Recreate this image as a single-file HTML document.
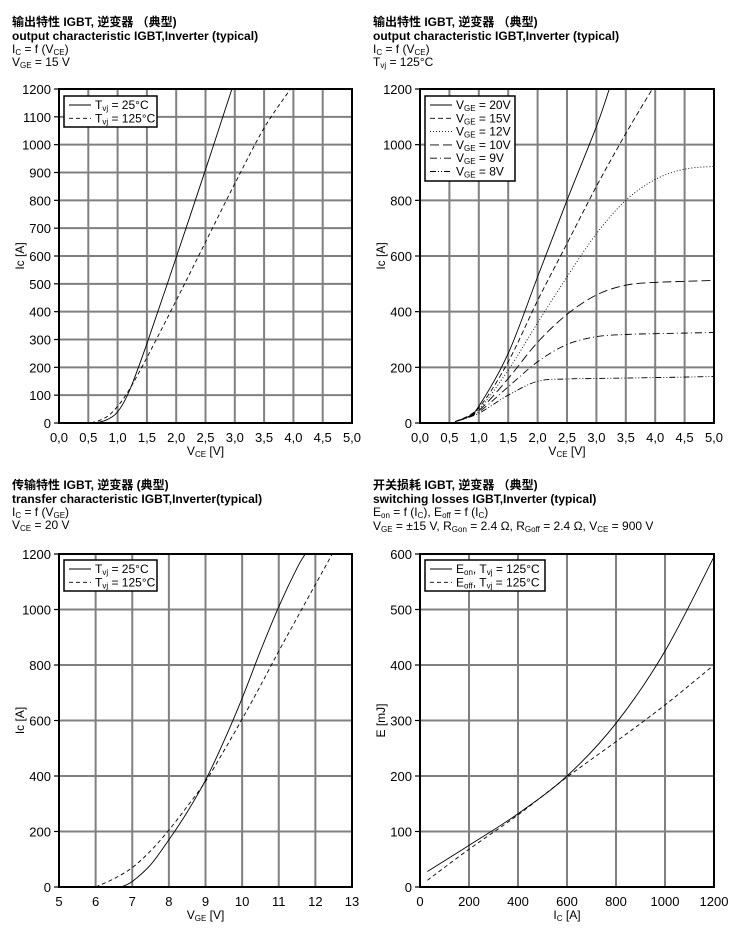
<!DOCTYPE html>
<html><head><meta charset="utf-8"><style>
html,body{margin:0;padding:0;background:#fff;}
svg{display:block;font-family:"Liberation Sans","Noto Sans CJK SC",sans-serif;}
</style></head><body>
<svg id="s" width="737" height="928" xmlns="http://www.w3.org/2000/svg">
<g font-size="12" fill="#000">
<text x="12" y="26" font-weight="bold">输出特性 IGBT, 逆变器 （典型)</text>
<text x="12" y="40" font-weight="bold">output characteristic IGBT,Inverter (typical)</text>
<text x="12" y="53">I<tspan font-size="8" dy="2">C</tspan><tspan dy="-2"> = f (V</tspan><tspan font-size="8" dy="2">CE</tspan><tspan dy="-2">)</tspan></text>
<text x="12" y="66">V<tspan font-size="8" dy="2">GE</tspan><tspan dy="-2"> = 15 V</tspan></text>

<text x="373" y="26" font-weight="bold">输出特性 IGBT, 逆变器 （典型)</text>
<text x="373" y="40" font-weight="bold">output characteristic IGBT,Inverter (typical)</text>
<text x="373" y="53">I<tspan font-size="8" dy="2">C</tspan><tspan dy="-2"> = f (V</tspan><tspan font-size="8" dy="2">CE</tspan><tspan dy="-2">)</tspan></text>
<text x="373" y="66">T<tspan font-size="8" dy="2">vj</tspan><tspan dy="-2"> = 125°C</tspan></text>

<text x="12" y="489" font-weight="bold">传输特性 IGBT, 逆变器 (典型)</text>
<text x="12" y="503" font-weight="bold">transfer characteristic  IGBT,Inverter(typical)</text>
<text x="12" y="516">I<tspan font-size="8" dy="2">C</tspan><tspan dy="-2"> = f (V</tspan><tspan font-size="8" dy="2">GE</tspan><tspan dy="-2">)</tspan></text>
<text x="12" y="529">V<tspan font-size="8" dy="2">CE</tspan><tspan dy="-2"> = 20 V</tspan></text>

<text x="373" y="489" font-weight="bold">开关损耗 IGBT, 逆变器 （典型)</text>
<text x="373" y="503" font-weight="bold">switching losses  IGBT,Inverter (typical)</text>
<text x="373" y="516">E<tspan font-size="8" dy="2">on</tspan><tspan dy="-2"> = f (I</tspan><tspan font-size="8" dy="2">C</tspan><tspan dy="-2">), E</tspan><tspan font-size="8" dy="2">off</tspan><tspan dy="-2"> = f (I</tspan><tspan font-size="8" dy="2">C</tspan><tspan dy="-2">)</tspan></text>
<text x="373" y="530">V<tspan font-size="8" dy="2">GE</tspan><tspan dy="-2"> = ±15 V, R</tspan><tspan font-size="8" dy="2">Gon</tspan><tspan dy="-2"> = 2.4 Ω, R</tspan><tspan font-size="8" dy="2">Goff</tspan><tspan dy="-2"> = 2.4 Ω, V</tspan><tspan font-size="8" dy="2">CE</tspan><tspan dy="-2"> = 900 V</tspan></text>
</g>
<g id="plots"></g>
</svg>
<script>
var NS="http://www.w3.org/2000/svg",G=document.getElementById("plots");
function el(t,a,txt){var e=document.createElementNS(NS,t);for(var k in a)e.setAttribute(k,a[k]);if(txt!=null)e.innerHTML=txt;G.appendChild(e);return e;}
function cr(pts){
 var d="M"+pts[0][0].toFixed(1)+","+pts[0][1].toFixed(1);
 for(var i=0;i<pts.length-1;i++){var p0=pts[i-1]||pts[i],p1=pts[i],p2=pts[i+1],p3=pts[i+2]||p2;
 var c1=[p1[0]+(p2[0]-p0[0])/6,p1[1]+(p2[1]-p0[1])/6],c2=[p2[0]-(p3[0]-p1[0])/6,p2[1]-(p3[1]-p1[1])/6];
 d+="C"+c1.join(",")+" "+c2.join(",")+" "+p2[0].toFixed(1)+","+p2[1].toFixed(1);}
 return d;}
function plot(o){
 var X0=o.x0,X1=o.x1,Y0=o.y0,Y1=o.y1;
 function sx(v){return X0+(v-o.xmin)/(o.xmax-o.xmin)*(X1-X0);}
 function sy(v){return Y1-(v-o.ymin)/(o.ymax-o.ymin)*(Y1-Y0);}
 o.xt.forEach(function(t){var x=sx(t.v);el("line",{x1:x,x2:x,y1:Y0,y2:Y1,stroke:"#808080","stroke-width":2});
  el("text",{x:x,y:Y1+19,"text-anchor":"middle","font-size":13},t.l);});
 o.yt.forEach(function(v){var y=sy(v);el("line",{x1:X0,x2:X1,y1:y,y2:y,stroke:"#808080","stroke-width":2});
  el("line",{x1:X0-5,x2:X0,y1:y,y2:y,stroke:"#000","stroke-width":1.2});
  el("text",{x:X0-8,y:y+5,"text-anchor":"end","font-size":13},String(v));});
 el("defs",{},'<clipPath id="c'+o.id+'"><rect x="'+X0+'" y="'+Y0+'" width="'+(X1-X0)+'" height="'+(Y1-Y0)+'"/></clipPath>');
 o.series.forEach(function(s){var p=s.p.map(function(q){return [sx(q[0]),sy(q[1])];});
  var a={d:cr(p),fill:"none",stroke:"#000","stroke-width":0.9,"clip-path":"url(#c"+o.id+")"};if(s.da)a["stroke-dasharray"]=s.da;el("path",a);});
 el("rect",{x:X0,y:Y0,width:X1-X0,height:Y1-Y0,fill:"none",stroke:"#000","stroke-width":2});
 el("text",{x:(X0+X1)/2,y:Y1+32,"text-anchor":"middle","font-size":12},o.xl);
 el("text",{x:0,y:0,"text-anchor":"middle","font-size":12,transform:"translate("+(X0-35)+","+((Y0+Y1)/2)+") rotate(-90)"},o.yl);
 var L=o.leg;el("rect",{x:L.x,y:L.y,width:L.w,height:L.h,fill:"#fff",stroke:"#000","stroke-width":1.5});
 L.items.forEach(function(it,i){var y=L.y+9+i*13.3;var a={x1:L.x+5,x2:L.x+27,y1:y,y2:y,stroke:"#000","stroke-width":0.9};if(it.da)a["stroke-dasharray"]=it.da;el("line",a);
  el("text",{x:L.x+31,y:y+4,"font-size":12},it.t);});
}
var tvj=function(t){return 'T<tspan font-size="8" dy="2">vj</tspan><tspan dy="-2"> = '+t+'</tspan>';};
var vge=function(t){return 'V<tspan font-size="8" dy="2">GE</tspan><tspan dy="-2"> = '+t+'</tspan>';};
var xt5=[];for(var i=0;i<=10;i++)xt5.push({v:i/2,l:(i/2).toFixed(1).replace(".",",")});
plot({id:1,x0:59,x1:352,y0:89,y1:423,xmin:0,xmax:5,ymin:0,ymax:1200,xt:xt5,yt:[0,100,200,300,400,500,600,700,800,900,1000,1100,1200],
 xl:'V<tspan font-size="8" dy="2">CE</tspan><tspan dy="-2"> [V]</tspan>',yl:'Ic [A]',
 series:[{p:[[0.6,0],[0.8,10],[1.0,40],[1.2,115],[1.5,285],[2.0,595],[2.5,910],[2.95,1200],[3.0,1230]]},
  {da:"4,3",p:[[0.55,0],[0.8,20],[1.0,60],[1.2,120],[1.5,235],[2.0,440],[2.5,650],[3.0,860],[3.5,1060],[3.95,1200],[4.0,1220]]}],
 leg:{x:64,y:96,w:93,h:31,items:[{t:tvj("25°C")},{t:tvj("125°C"),da:"4,3"}]}});
plot({id:2,x0:420,x1:714,y0:89,y1:423,xmin:0,xmax:5,ymin:0,ymax:1200,xt:xt5,yt:[0,200,400,600,800,1000,1200],
 xl:'V<tspan font-size="8" dy="2">CE</tspan><tspan dy="-2"> [V]</tspan>',yl:'Ic [A]',
 series:[{p:[[0.6,5],[0.8,20],[1.0,60],[1.5,250],[2.0,525],[2.5,800],[3.0,1065],[3.22,1200],[3.3,1250]]},
  {da:"5,3",p:[[0.6,5],[1,55],[1.5,220],[2,440],[2.5,645],[3,850],[3.5,1040],[3.95,1200],[4.0,1220]]},
  {da:"1,2",p:[[0.6,5],[1,50],[1.5,190],[2,360],[2.5,525],[3,680],[3.5,800],[4,875],[4.5,912],[5,922]]},
  {da:"9,4",p:[[0.6,5],[1,45],[1.5,160],[2,290],[2.5,390],[3,460],[3.5,495],[4,505],[5,512]]},
  {da:"7,3,1,3",p:[[0.6,5],[1,40],[1.5,130],[2,220],[2.5,282],[3,310],[3.5,318],[4,321],[5,325]]},
  {da:"6,2,1,2,1,2",p:[[0.6,5],[1,35],[1.5,100],[2,150],[2.5,158],[3,160],[4,163],[5,167]]}],
 leg:{x:425,y:96,w:90,h:85,items:[{t:vge("20V")},{t:vge("15V"),da:"5,3"},{t:vge("12V"),da:"1,2"},{t:vge("10V"),da:"9,4"},{t:vge("9V"),da:"7,3,1,3"},{t:vge("8V"),da:"6,2,1,2,1,2"}]}});
var xt13=[];for(var i=5;i<=13;i++)xt13.push({v:i,l:String(i)});
plot({id:3,x0:59,x1:352,y0:554,y1:887,xmin:5,xmax:13,ymin:0,ymax:1200,xt:xt13,yt:[0,200,400,600,800,1000,1200],
 xl:'V<tspan font-size="8" dy="2">GE</tspan><tspan dy="-2"> [V]</tspan>',yl:'Ic [A]',
 series:[{p:[[6.7,0],[7,20],[7.5,80],[8,170],[8.5,270],[9,385],[9.5,525],[10,680],[10.5,850],[11,1010],[11.5,1150],[11.72,1200],[11.8,1230]]},
  {da:"4,3",p:[[6,0],[6.5,30],[7,70],[7.5,130],[8,205],[8.5,290],[9,380],[9.5,490],[10,605],[10.5,725],[11,850],[11.5,970],[12,1090],[12.46,1200],[12.5,1215]]}],
 leg:{x:64,y:560,w:93,h:31,items:[{t:tvj("25°C")},{t:tvj("125°C"),da:"4,3"}]}});
var xt12=[];for(var i=0;i<=6;i++)xt12.push({v:i*200,l:String(i*200)});
plot({id:4,x0:420,x1:714,y0:554,y1:887,xmin:0,xmax:1200,ymin:0,ymax:600,xt:xt12,yt:[0,100,200,300,400,500,600],
 xl:'I<tspan font-size="8" dy="2">C</tspan><tspan dy="-2"> [A]</tspan>',yl:'E [mJ]',
 series:[{p:[[30,28],[200,75],[400,132],[600,200],[800,295],[1000,425],[1200,595]]},
  {da:"4,3",p:[[30,12],[200,68],[400,130],[600,198],[800,262],[1000,328],[1200,400]]}],
 leg:{x:425,y:560,w:120,h:31,items:[{t:'E<tspan font-size="8" dy="2">on</tspan><tspan dy="-2">, </tspan>'+tvj("125°C")},{t:'E<tspan font-size="8" dy="2">off</tspan><tspan dy="-2">, </tspan>'+tvj("125°C"),da:"4,3"}]}});
</script>
</body></html>
